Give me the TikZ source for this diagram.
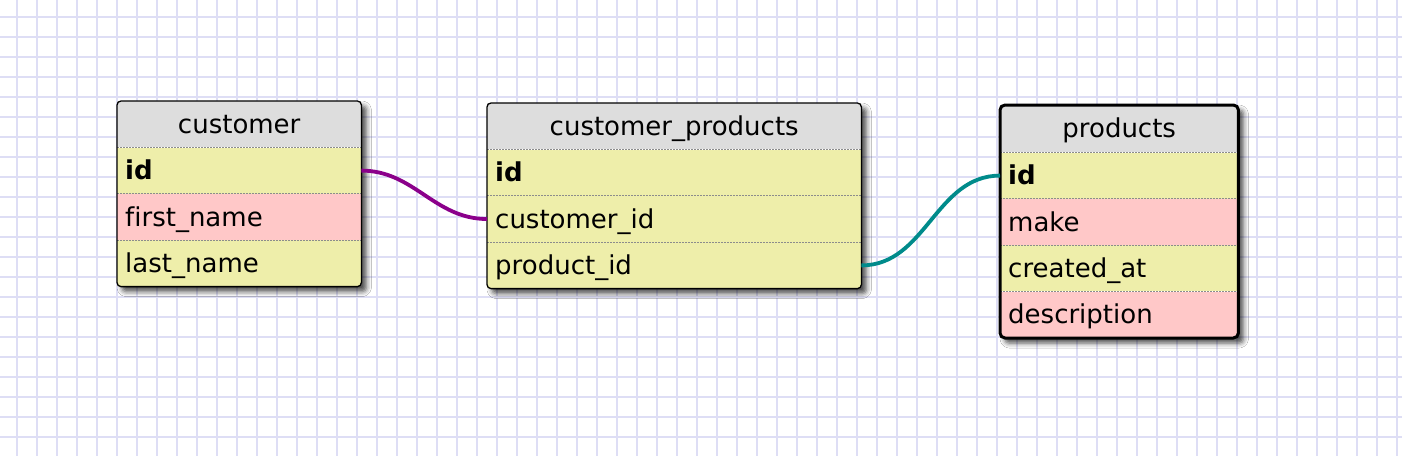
\documentclass[tikz,border=0pt]{standalone}
\usepackage{fontspec}
\setmainfont{DejaVu Sans}[Ligatures=CommonOff]
\usetikzlibrary{positioning,backgrounds,shadows.blur}
\definecolor{gridline}{RGB}{222,222,245}
\definecolor{headgrey}{RGB}{221,221,221}
\definecolor{rowyellow}{RGB}{238,238,170}
\definecolor{rowpink}{RGB}{255,200,200}
\definecolor{linkpurple}{RGB}{139,0,139}
\definecolor{linkteal}{RGB}{0,139,139}
\tikzset{
  field/.style={fill=#1,anchor=north west,inner xsep=8pt,inner ysep=0pt,minimum height=46pt,
    text height=22pt,text depth=4pt,align=left,font=\fontsize{26}{30}\selectfont},
  head/.style={field=headgrey,align=center},
  divider/.style={draw=black!45,line width=1.2pt,dash pattern=on 1.5pt off 1.5pt},
  frame/.style={draw=black,rounded corners=4pt,line width=1.3pt},
  shade/.style={fill=white,rounded corners=4pt,blur shadow={shadow xshift=5pt,shadow yshift=-5pt,shadow blur radius=5pt,shadow opacity=70}},
  link/.style={line width=3.8pt}
}
\begin{document}
\begin{tikzpicture}[x=1pt,y=-1pt]
  \useasboundingbox (0,0) rectangle (1402,456);
  \begin{scope}[on background layer]
    \fill[white] (0,0) rectangle (1402,456);
    \foreach \x in {17,37,...,1397} \draw[gridline,line width=2pt] (\x,0) -- (\x,456);
    \foreach \y in {17,37,...,437} \draw[gridline,line width=2pt] (0,\y) -- (1402,\y);
  \end{scope}

  \node[head,text width=228pt] (cust) at (117,101) {customer};
  \node[field=rowyellow,text width=228pt,below=0pt of cust] (cust_id) {\textbf{id}};
  \node[field=rowpink,text width=228pt,below=0pt of cust_id] (cust_first) {first\_name};
  \node[field=rowyellow,text width=228pt,below=0pt of cust_first] (cust_last) {last\_name};

  \node[head,text width=358pt] (cp) at (487,103) {customer\_products};
  \node[field=rowyellow,text width=358pt,below=0pt of cp] (cp_id) {\textbf{id}};
  \node[field=rowyellow,text width=358pt,below=0pt of cp_id] (cp_cust) {customer\_id};
  \node[field=rowyellow,text width=358pt,below=0pt of cp_cust] (cp_prod) {product\_id};

  \node[head,text width=222pt,minimum height=47pt] (prod) at (1000,105) {products};
  \node[field=rowyellow,text width=222pt,below=0pt of prod] (prod_id) {\textbf{id}};
  \node[field=rowpink,text width=222pt,below=0pt of prod_id] (prod_make) {make};
  \node[field=rowyellow,text width=222pt,below=0pt of prod_make] (prod_created) {created\_at};
  \node[field=rowpink,text width=222pt,below=0pt of prod_created] (prod_desc) {description};

  \begin{scope}[on background layer]
    \path[shade] (cust.north west) rectangle (cust_last.south east);
    \path[shade] (cp.north west) rectangle (cp_prod.south east);
    \path[shade] (prod.north west) rectangle (prod_desc.south east);
  \end{scope}

  \foreach \r in {cust_id,cust_first,cust_last,cp_id,cp_cust,cp_prod,prod_id,prod_make,prod_created,prod_desc}
    \draw[divider] (\r.north west) -- (\r.north east);

  \draw[frame] (cust.north west) rectangle (cust_last.south east);
  \draw[frame] (cp.north west) rectangle (cp_prod.south east);
  \draw[frame,line width=3pt,rounded corners=5pt] (prod.north west) rectangle (prod_desc.south east);

  \draw[link,linkpurple] (cust_id.east) to[out=0,in=180] (cp_cust.west);
  \draw[link,linkteal] (cp_prod.east) to[out=0,in=180] (prod_id.west);
\end{tikzpicture}
\end{document}
